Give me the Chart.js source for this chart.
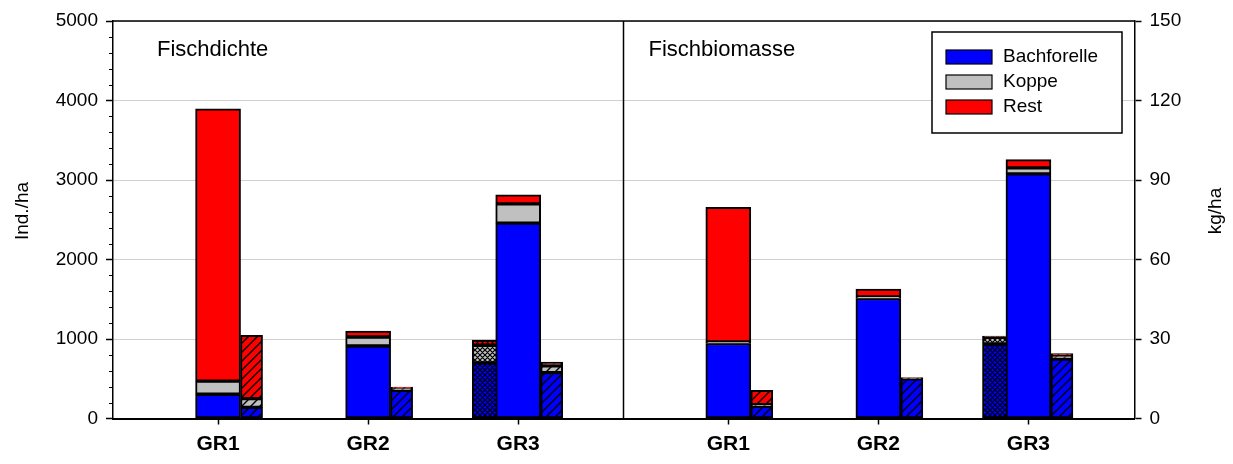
<!DOCTYPE html>
<html>
<head>
<meta charset="utf-8">
<script src="https://cdn.jsdelivr.net/npm/chart.js@4.4.0/dist/chart.umd.min.js"></script>
<style>
  html, body { margin: 0; padding: 0; background: #fff; }
  #wrap { width: 1233px; height: 464px; }
</style>
</head>
<body>
<div id="wrap"><canvas id="myChart" width="1233" height="464"></canvas></div>
<script>
const categories = ['GR1', 'GR2', 'GR3'];
const species = ['Bachforelle', 'Koppe', 'Rest'];
const panelTitles = ['Fischdichte', 'Fischbiomasse'];

// Fischdichte (Ind./ha)
const densBach = [305, 912, 2457];
const densKoppe = [165, 113, 243];
const densRest = [3425, 75, 113];
const densBachHatch = [140, 355, 578];
const densKoppeHatch = [110, 28, 83];
const densRestHatch = [795, 12, 50];
const densBachCross = [null, null, 700];
const densKoppeCross = [null, null, 220];
const densRestCross = [null, null, 65];

// Fischbiomasse (kg/ha)
const massBach = [28.3, 45.3, 92.3];
const massKoppe = [0.6, 0.6, 2.3];
const massRest = [50.8, 2.9, 3.1];
const massBachHatch = [4.6, 15.0, 22.4];
const massKoppeHatch = [0.6, 0.2, 1.5];
const massRestHatch = [5.4, 0.2, 0.6];
const massBachCross = [null, null, 28.1];
const massKoppeCross = [null, null, 2.5];
const massRestCross = [null, null, 0.5];

// layout (x units: 1 unit = one group spacing)
const leftPos = [1, 2, 3];
const rightPos = [4.4, 5.4, 6.4];
const dividerX = 3.7;
const colors = ['#0000ff', '#c0c0c0', '#ff0000'];

function hatch(color, cross) {
    const size = cross ? 5 : 9;
    const c = document.createElement('canvas');
    c.width = size;
    c.height = size;
    const g = c.getContext('2d');
    g.fillStyle = color;
    g.fillRect(0, 0, size, size);
    g.strokeStyle = '#000';
    g.lineWidth = cross ? 1.2 : 1.4;
    g.beginPath();
    g.moveTo(-1, size + 1); g.lineTo(size + 1, -1);
    g.moveTo(-1, 1); g.lineTo(1, -1);
    g.moveTo(size - 1, size + 1); g.lineTo(size + 1, size - 1);
    if (cross) {
        g.moveTo(-1, -1); g.lineTo(size + 1, size + 1);
        g.moveTo(size - 1, -1); g.lineTo(size + 1, 1);
        g.moveTo(-1, size - 1); g.lineTo(1, size + 1);
    }
    g.stroke();
    return g.createPattern(c, 'repeat');
}

function makeSet(label, values, xs, shift, axis, fill, thickness, stack, order) {
    return {
        label: label,
        data: values.map((v, i) => ({ x: xs[i] + shift, y: v })),
        yAxisID: axis,
        backgroundColor: fill,
        borderColor: '#000',
        borderWidth: 2,
        borderSkipped: false,
        barThickness: thickness,
        grouped: false,
        stack: stack,
        order: order
    };
}

const datasets = [];
const panels = [
    { axis: 'yL', xs: leftPos, wide: [densBach, densKoppe, densRest], narrow: [densBachHatch, densKoppeHatch, densRestHatch], cross: [densBachCross, densKoppeCross, densRestCross] },
    { axis: 'yR', xs: rightPos, wide: [massBach, massKoppe, massRest], narrow: [massBachHatch, massKoppeHatch, massRestHatch], cross: [massBachCross, massKoppeCross, massRestCross] }
];
panels.forEach((p, k) => {
    species.forEach((name, s) => {
        datasets.push(makeSet(name, p.wide[s], p.xs, 0, p.axis, colors[s], 45, 'w' + k, 1));
        datasets.push(makeSet(name, p.narrow[s], p.xs, 0.2233, p.axis, hatch(colors[s], false), 22, 'n' + k, 1));
        datasets.push(makeSet(name, p.cross[s], p.xs, -0.153, p.axis, hatch(colors[s], true), 46, 'c' + k, 2));
    });
});

const tickPos = leftPos.concat(rightPos);
const tickLabels = categories.concat(categories);

const decor = {
    id: 'decor',
    afterDatasetsDraw(chart) {
        const ctx = chart.ctx;
        const ca = chart.chartArea;
        const x = chart.scales.x;
        const yL = chart.scales.yL;
        ctx.save();
        ctx.strokeStyle = '#000';
        ctx.lineWidth = 1.5;
        // divider between the two panels
        const dx = Math.round(x.getPixelForValue(dividerX)) + 0.5;
        ctx.beginPath();
        ctx.moveTo(dx, ca.top);
        ctx.lineTo(dx, ca.bottom);
        // top frame
        ctx.moveTo(ca.left, ca.top);
        ctx.lineTo(ca.right, ca.top);
        ctx.stroke();
        // minor ticks on left axis
        ctx.lineWidth = 1;
        ctx.beginPath();
        for (let v = 200; v < 5000; v += 200) {
            if (v % 1000 === 0) continue;
            const y = Math.round(yL.getPixelForValue(v)) + 0.5;
            ctx.moveTo(ca.left - 4, y);
            ctx.lineTo(ca.left, y);
        }
        ctx.stroke();

        ctx.fillStyle = '#000';
        ctx.textBaseline = 'middle';
        // panel titles
        ctx.font = '22px "Liberation Sans", Arial, sans-serif';
        ctx.textAlign = 'left';
        ctx.fillText(panelTitles[0], ca.left + 44, ca.top + 29);
        ctx.fillText(panelTitles[1], dx + 25, ca.top + 29);
        // axis titles
        ctx.font = '19px "Liberation Sans", Arial, sans-serif';
        ctx.textAlign = 'center';
        ctx.save();
        ctx.translate(23, 211);
        ctx.rotate(-Math.PI / 2);
        ctx.fillText('Ind./ha', 0, 0);
        ctx.restore();
        ctx.save();
        ctx.translate(1216, 211);
        ctx.rotate(-Math.PI / 2);
        ctx.fillText('kg/ha', 0, 0);
        ctx.restore();

        // legend
        const bx = ca.right - 202.5, by = ca.top + 11, bw = 190, bh = 101;
        ctx.fillStyle = '#fff';
        ctx.fillRect(bx, by, bw, bh);
        ctx.lineWidth = 1.5;
        ctx.strokeRect(bx, by, bw, bh);
        ctx.font = '19px "Liberation Sans", Arial, sans-serif';
        ctx.textAlign = 'left';
        species.forEach((name, s) => {
            const cy = by + 25 + s * 25;
            ctx.fillStyle = colors[s];
            ctx.fillRect(bx + 14, cy - 7, 46, 14);
            ctx.lineWidth = 1.2;
            ctx.strokeRect(bx + 14, cy - 7, 46, 14);
            ctx.fillStyle = '#000';
            ctx.fillText(name, bx + 71, cy);
        });
        ctx.restore();
    }
};

Chart.defaults.font.family = '"Liberation Sans", Arial, sans-serif';
Chart.defaults.color = '#000';

const config = {
    type: 'bar',
    data: { datasets: datasets },
    options: {
        responsive: false,
        animation: false,
        layout: { padding: { top: 21, left: 0, right: 0, bottom: 0 } },
        plugins: {
            legend: { display: false },
            tooltip: { enabled: false }
        },
        scales: {
            x: {
                type: 'linear',
                min: 0.3,
                max: 7.1067,
                offset: false,
                afterBuildTicks: s => { s.ticks = tickPos.map(v => ({ value: v })); },
                afterFit: s => { s.height = 45.5; },
                grid: { drawOnChartArea: false, drawTicks: true, tickLength: 6, tickColor: '#000', tickWidth: 1.5, offset: false },
                border: { color: '#000', width: 2 },
                ticks: {
                    font: { size: 21, weight: 'bold' },
                    padding: 7,
                    maxRotation: 0,
                    autoSkip: false,
                    callback: (v, i) => tickLabels[i]
                }
            },
            yL: {
                position: 'left',
                stacked: true,
                min: 0,
                max: 5000,
                ticks: { stepSize: 1000, font: { size: 19 }, padding: 8, callback: v => String(v) },
                grid: { color: '#d0d0d0', lineWidth: 1, tickColor: '#000', tickLength: 7, tickWidth: 1.5 },
                border: { color: '#000', width: 1.5 },
                afterFit: s => { s.width = 113; }
            },
            yR: {
                position: 'right',
                stacked: true,
                min: 0,
                max: 150,
                ticks: { stepSize: 30, font: { size: 19 }, padding: 8, callback: v => String(v) },
                grid: { drawOnChartArea: false, tickColor: '#000', tickLength: 7, tickWidth: 1.5 },
                border: { color: '#000', width: 1.5 },
                afterFit: s => { s.width = 98.5; }
            }
        }
    },
    plugins: [decor]
};

new Chart(document.getElementById('myChart'), config);
</script>
</body>
</html>
